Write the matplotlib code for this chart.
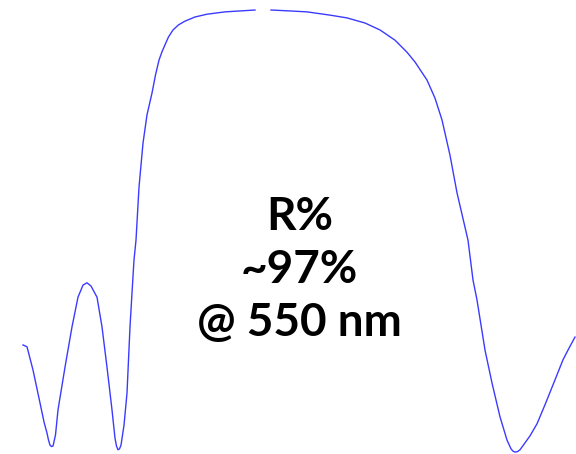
import numpy as np
import matplotlib.pyplot as plt

# reflectance spectrum of the mirror coating (wavelength in nm, R in %)
wavelength = [403.8, 406.2, 409.8, 414.0, 416.4, 418.2, 419.1, 420.0, 420.9, 421.8,
              423.3, 424.8, 429.0, 433.2, 436.8, 439.8, 442.2, 444.6, 448.2, 451.2,
              454.2, 457.2, 459.0, 459.9, 460.8, 461.7, 462.6, 464.4, 466.2, 468.0,
              469.2, 470.4, 471.6, 473.4, 475.8, 478.2, 481.2, 483.3, 485.4, 487.2,
              489.0, 491.1, 493.8, 497.1, 501.0, 507.0, 514.2, 525.0, 534.0, 543.0,
              548.0,
              552.6, 564.0, 574.2, 588.0, 598.2, 609.0, 618.0, 627.0, 634.2, 639.0,
              646.2, 651.0, 655.2, 660.0, 664.2, 670.8, 673.8, 676.2, 681.0, 685.2,
              690.0, 694.2, 696.6, 697.8, 699.0, 700.5, 702.0, 706.2, 708.0, 712.2,
              717.0, 721.8, 727.8, 731.4, 735.0]
reflectance = [24.8, 24.4, 19.4, 12.3, 8.2, 5.8, 4.3, 3.2, 2.9, 3.0,
               5.4, 10.8, 20.0, 28.7, 35.1, 37.7, 38.2, 37.5, 35.1, 28.7,
               20.0, 10.8, 4.7, 3.0, 2.2, 2.4, 3.2, 7.5, 14.4, 28.7,
               36.0, 43.1, 47.4, 58.8, 68.3, 74.4, 79.1, 83.0, 86.2, 88.0,
               89.5, 91.2, 92.7, 93.8, 94.6, 95.5, 96.1, 96.6, 96.8, 97.0,
               np.nan,
               97.0, 96.8, 96.6, 95.9, 95.3, 94.2, 92.7, 90.5, 87.9, 85.8,
               81.9, 78.0, 73.3, 65.7, 57.6, 47.4, 38.8, 34.5, 23.7, 16.6,
               9.3, 4.3, 2.4, 1.9, 1.7, 1.8, 2.2, 4.3, 5.2, 7.8,
               11.9, 16.2, 21.6, 24.1, 26.5]

label = "R%\n~97%\n@ 550 nm"

fig = plt.figure(figsize=(5.76, 4.54), dpi=100)
ax = fig.add_axes([0, 0, 1, 1])
ax.plot(wavelength, reflectance, color='#3b3bff', lw=1.0)
ax.set_xlim(390, 735.6)
ax.set_ylim(1.29, 99.16)
ax.axis('off')

ax.text(0.52, 0.405, label, transform=ax.transAxes, ha='center', va='center',
        fontsize=33, fontweight='bold', family=['Lato', 'DejaVu Sans'],
        linespacing=1.33)

fig.savefig('out.png', dpi=100)
